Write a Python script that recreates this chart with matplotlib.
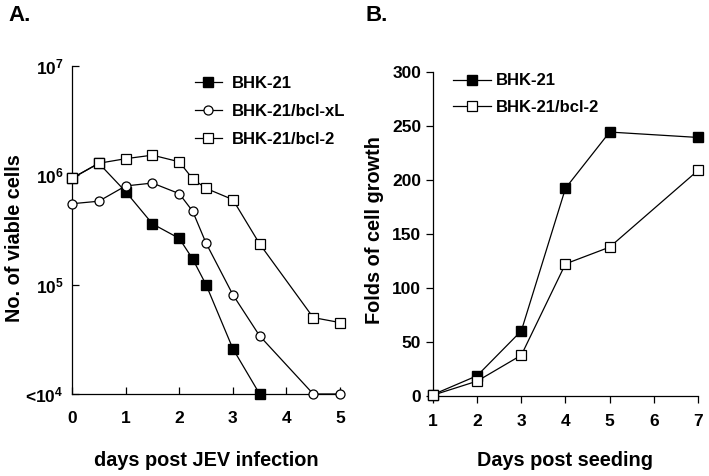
import numpy as np
import matplotlib.pyplot as plt

plt.rcParams['font.family'] = ['Liberation Sans', 'DejaVu Sans']
plt.rcParams['font.weight'] = 'bold'
plt.rcParams['axes.labelweight'] = 'bold'
plt.rcParams['mathtext.fontset'] = 'custom'
plt.rcParams['mathtext.bf'] = 'Liberation Sans:bold'
plt.rcParams['mathtext.rm'] = 'Liberation Sans:bold'
plt.rcParams['mathtext.default'] = 'bf'

# panel A: viable cells after JEV infection
days_a = [0, 0.5, 1, 1.5, 2, 2.25, 2.5, 3, 3.5]
bhk_a = [9.4e5, 1.29e6, 7.1e5, 3.6e5, 2.65e5, 1.72e5, 1.0e5, 2.6e4, 1.0e4]
days_xl = [0, 0.5, 1, 1.5, 2, 2.25, 2.5, 3, 3.5, 4.5, 5]
bclxl_a = [5.5e5, 5.8e5, 8.0e5, 8.5e5, 6.8e5, 4.7e5, 2.4e5, 8.1e4, 3.4e4, 1.0e4, 1.0e4]
days_b2 = [0, 0.5, 1, 1.5, 2, 2.25, 2.5, 3, 3.5, 4.5, 5]
bcl2_a = [9.4e5, 1.29e6, 1.42e6, 1.53e6, 1.33e6, 9.3e5, 7.6e5, 6.0e5, 2.36e5, 5.0e4, 4.5e4]

# panel B: growth
days_g = [1, 2, 3, 4, 5, 7]
bhk_g = [1, 18.5, 60, 192, 244, 239]
bcl2_g = [0.5, 13.5, 37.5, 122, 137.5, 208.5]

fig = plt.figure(figsize=(7.09, 4.76), dpi=100)

lw = 0.9
ms = 6.5
tfs = 12.5  # tick labels
lfs = 14.3  # axis labels

# ---- A ----
ax = fig.add_axes([0.1016, 0.1723, 0.378, 0.689])
ax.plot(days_a, bhk_a, '-s', color='black', mfc='black', mec='black', lw=lw, ms=ms,
        clip_on=False, zorder=3, label='BHK-21')
ax.plot(days_xl, bclxl_a, '-o', color='black', mfc='white', mec='black', lw=lw, ms=ms,
        mew=0.9, clip_on=False, zorder=3, label='BHK-21/bcl-xL')
ax.plot(days_b2, bcl2_a, '-s', color='black', mfc='white', mec='black', lw=lw, ms=ms,
        mew=0.9, clip_on=False, zorder=4, label='BHK-21/bcl-2')
ax.set_yscale('log')
ax.set_xlim(0, 5)
ax.set_ylim(1e4, 1e7)
ax.set_xticks([0, 1, 2, 3, 4, 5])
ax.set_yticks([1e4, 1e5, 1e6, 1e7])
ax.set_yticklabels(['<10$^4$', '10$^5$', '10$^6$', '10$^7$'])
ax.yaxis.set_minor_locator(plt.NullLocator())
ax.tick_params(direction='in', length=5, width=0.9, labelsize=tfs)
ax.tick_params(axis='x', pad=12)
ax.tick_params(axis='y', pad=6)
for s in ['top', 'right']:
    ax.spines[s].set_visible(False)
for s in ['left', 'bottom']:
    ax.spines[s].set_linewidth(0.9)
ax.set_xlabel('days post JEV infection', fontsize=lfs, labelpad=18)
ax.set_ylabel('No. of viable cells', fontsize=lfs)
ax.yaxis.set_label_coords(-0.178, 0.476)
ax.legend(loc='upper left', bbox_to_anchor=(0.415, 1.005), frameon=False,
          prop={'size': 12, 'weight': 'bold'},
          handlelength=1.6, handletextpad=0.6, labelspacing=0.78, borderaxespad=0.3)

# ---- B ----
bx = fig.add_axes([0.6107, 0.1687, 0.3738, 0.681])
bx.plot(days_g, bhk_g, '-s', color='black', mfc='black', mec='black', lw=lw, ms=ms + 0.5,
        clip_on=False, zorder=3, label='BHK-21')
bx.plot(days_g, bcl2_g, '-s', color='black', mfc='white', mec='black', lw=lw, ms=ms + 0.5,
        mew=0.9, clip_on=False, zorder=4, label='BHK-21/bcl-2')
bx.set_xlim(1, 7)
bx.set_ylim(0, 300)
bx.set_xticks(range(1, 8))
bx.set_yticks(range(0, 301, 50))
bx.tick_params(direction='out', length=5, width=0.9, labelsize=tfs)
bx.tick_params(axis='x', pad=8)
for s in ['top', 'right']:
    bx.spines[s].set_visible(False)
for s in ['left', 'bottom']:
    bx.spines[s].set_linewidth(0.9)
bx.set_xlabel('Days post seeding', fontsize=lfs, labelpad=16)
bx.set_ylabel('Folds of cell growth', fontsize=lfs)
bx.yaxis.set_label_coords(-0.185, 0.512)
bx.legend(loc='upper left', bbox_to_anchor=(0.03, 1.03), frameon=False,
          prop={'size': 12, 'weight': 'bold'},
          handlelength=2.3, handletextpad=0.3, labelspacing=0.68, borderaxespad=0.3)

for a in (ax, bx):
    for t in a.get_xticklabels() + a.get_yticklabels():
        t.set_fontweight('bold')

fig.text(0.012, 0.967, 'A.', fontsize=16, fontweight='bold', va='center')
fig.text(0.516, 0.967, 'B.', fontsize=16, fontweight='bold', va='center')

fig.savefig('out.png', dpi=100)
